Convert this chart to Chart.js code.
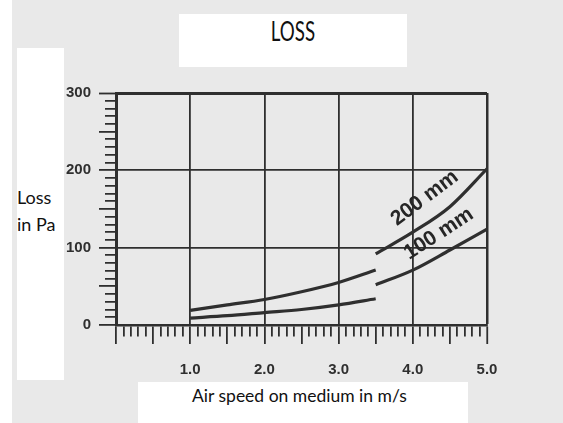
<!DOCTYPE html>
<html lang="en">
<head>
    <meta charset="UTF-8">
    <title>Loss</title>
    <script src="https://cdn.jsdelivr.net/npm/chart.js@4/dist/chart.umd.min.js"></script>
    <style>
        body {
            margin: 0;
            background: #e9e9e9;
        }

        .page {
            position: relative;
            width: 563px;
            height: 423px;
            overflow: hidden;
            background: #e9e9e9;
        }

        .page canvas {
            position: absolute;
            left: 0;
            top: 0;
        }

        .strip {
            position: absolute;
            left: 0;
            top: 0;
            width: 12px;
            height: 423px;
            background: #fff;
        }

        .box {
            position: absolute;
            background: #fff;
        }

        .txt {
            position: absolute;
            font-family: Lato, "Open Sans", sans-serif;
            color: #111;
            line-height: 1.2;
            white-space: nowrap;
        }
    </style>
</head>
<body>
<div class="page">
    <div class="strip"></div>
    <canvas id="lossChart" width="563" height="423"></canvas>

    <div class="box" style="left:179px; top:14px; width:228px; height:53px;"></div>
    <div class="txt" style="left:179px; width:228px; top:16px; font-size:26px; text-align:center; transform:scaleX(0.72);">LOSS</div>

    <div class="box" style="left:17px; top:48px; width:47px; height:332px;"></div>
    <div class="txt" style="left:17px; top:187px; font-size:18px;">Loss</div>
    <div class="txt" style="left:17px; top:214px; font-size:18px;">in Pa</div>

    <div class="box" style="left:138px; top:382px; width:330px; height:41px;"></div>
    <div class="txt" style="left:192px; top:385px; font-size:17.5px;">Air speed on medium in m/s</div>
</div>

<script>
    // curves are drawn in two pieces each, broken at 3.5 m/s like the original
    const speedLow = [1.0, 1.5, 2.0, 2.5, 3.0, 3.5];
    const loss200Low = [19, 26, 33, 43, 55, 71];
    const loss100Low = [9, 12, 16, 20, 26, 34];

    const speedHigh = [3.5, 4.0, 4.5, 5.0];
    const loss200High = [92, 120, 153, 202];
    const loss100High = [52, 71, 97, 124];

    const curveNames = ['200 mm', '100 mm'];
    // where each curve name sits, in data units (speed, loss)
    const namePos = [[4.16, 164], [4.35, 118]];
    const nameAngle = [-37, -33];

    const ink = '#2f2f2f';
    const clear = 'rgba(0,0,0,0)';

    const isWhole = v => Math.abs(v - Math.round(v)) < 1e-6;
    const isHalf = v => Math.abs(v * 2 - Math.round(v * 2)) < 1e-6;

    function toPoints(xs, ys) {
        return xs.map((x, i) => ({ x: x, y: ys[i] }));
    }

    function curve(label, xs, ys) {
        return {
            label: label,
            data: toPoints(xs, ys),
            borderColor: ink,
            borderWidth: 3.2,
            pointRadius: 0,
            fill: false,
            tension: 0.4,
            cubicInterpolationMode: 'monotone'
        };
    }

    const curveNamesPlugin = {
        id: 'curveNames',
        afterDatasetsDraw(chart) {
            const c = chart.ctx;
            const xs = chart.scales.x;
            const ys = chart.scales.y;
            c.save();
            c.fillStyle = '#262626';
            c.font = 'bold 21px "Liberation Sans", Arial, sans-serif';
            c.textAlign = 'center';
            c.textBaseline = 'middle';
            curveNames.forEach((name, i) => {
                const px = xs.getPixelForValue(namePos[i][0]);
                const py = ys.getPixelForValue(namePos[i][1]);
                c.save();
                c.translate(px, py);
                c.rotate(nameAngle[i] * Math.PI / 180);
                c.fillText(name, 0, 0);
                c.restore();
            });
            c.restore();
        }
    };

    const tickFont = { family: '"Liberation Sans", Arial, sans-serif', size: 15, weight: 'bold' };

    new Chart(document.getElementById('lossChart'), {
        type: 'line',
        data: {
            datasets: [
                curve('200 mm', speedLow, loss200Low),
                curve('200 mm', speedHigh, loss200High),
                curve('100 mm', speedLow, loss100Low),
                curve('100 mm', speedHigh, loss100High)
            ]
        },
        options: {
            responsive: false,
            animation: false,
            devicePixelRatio: 1,
            layout: { padding: { top: 93, right: 76, left: 0, bottom: 0 } },
            plugins: {
                legend: { display: false },
                tooltip: { enabled: false }
            },
            scales: {
                x: {
                    type: 'linear',
                    min: 0,
                    max: 5,
                    border: { color: ink, width: 2.5 },
                    grid: {
                        color: ctx => isWhole(ctx.tick.value) ? ink : clear,
                        lineWidth: ctx => ctx.tick.value === 5 ? 2.5 : 1.8,
                        tickColor: ink,
                        tickWidth: 1.8,
                        tickLength: 19,
                        tickBorderDash: ctx => isHalf(ctx.tick.value) ? [] : [10, 30]
                    },
                    ticks: {
                        stepSize: 0.1,
                        autoSkip: false,
                        maxRotation: 0,
                        minRotation: 0,
                        padding: 17,
                        color: ink,
                        font: tickFont,
                        callback: v => (isWhole(v) && v > 0) ? v.toFixed(1) : ''
                    },
                    afterFit: s => { s.height = 98; }
                },
                y: {
                    type: 'linear',
                    min: 0,
                    max: 300,
                    border: { color: ink, width: 3 },
                    grid: {
                        color: ctx => ctx.tick.value % 100 === 0 ? ink : clear,
                        lineWidth: ctx => ctx.tick.value === 300 ? 3 : 1.8,
                        tickColor: ink,
                        tickWidth: 1.8,
                        tickLength: 17,
                        tickBorderDash: ctx => ctx.tick.value % 50 === 0 ? [] : [0, 6, 11, 30]
                    },
                    ticks: {
                        stepSize: 10,
                        autoSkip: false,
                        padding: 8,
                        color: ink,
                        font: tickFont,
                        callback: v => v % 100 === 0 ? v : ''
                    },
                    afterFit: s => { s.width = 116; }
                }
            }
        },
        plugins: [curveNamesPlugin]
    });
</script>
</body>
</html>
